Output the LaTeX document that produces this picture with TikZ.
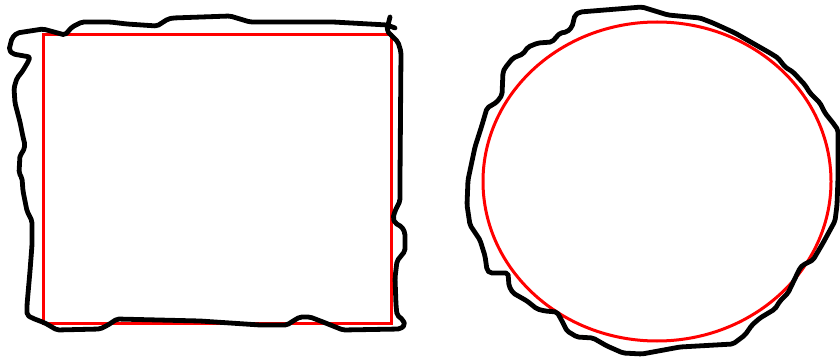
\documentclass[tikz,border=0pt]{standalone}
\begin{document}
\begin{tikzpicture}[x=1pt,y=-1pt,
  sketch/.style={draw=black,line width=4.8pt,line join=round,line cap=round,rounded corners=2pt},
  exact/.style={draw=red,line width=3pt}]
\useasboundingbox (0,0) rectangle (840,358);
% red reference shapes
\draw[exact] (43,35) rectangle (391,323);
\draw[exact] (657,181.5) ellipse [x radius=174, y radius=159.5];
% hand-drawn rectangle
\draw[sketch] (395,28) -- (387,25) -- (333,22) -- (250,22) -- (230,16) -- (173,18) -- (168,19) -- (157,26)
  -- (127,24) -- (110,22) -- (82,22) -- (72,27) -- (65,35) -- (43,29) -- (17,33) -- (12,38) -- (9,50)
  -- (13,54) -- (30,57) -- (28,62) -- (22,72) -- (17,78) -- (14,88) -- (15,103) -- (20,122) -- (23,137)
  -- (25,145) -- (23,152) -- (20,155) -- (19,173) -- (22,178) -- (23,191) -- (27,211) -- (32,221)
  -- (32,245) -- (30,271) -- (27,305) -- (27,315) -- (32,318) -- (45,323) -- (57,330) -- (100,329)
  -- (108,325) -- (117,319) -- (200,321) -- (260,325) -- (287,325) -- (293,321) -- (300,317) -- (310,317)
  -- (323,322) -- (343,330) -- (400,329) -- (405,325) -- (403,320) -- (397,315) -- (396,305) -- (395,278)
  -- (397,261) -- (405,251) -- (405,233) -- (402,227) -- (395,223) -- (393,218) -- (395,211) -- (400,201)
  -- (400,178) -- (401,52) -- (398,42) -- (393,37) -- (387,31) -- (388,25) -- (390,17);
% hand-drawn ellipse
\draw[sketch] (642,7) -- (580,12) -- (575,15) -- (572,27) -- (567,32) -- (560,33) -- (552,42) -- (538,43)
  -- (528,47) -- (523,54) -- (513,58) -- (505,68) -- (503,72) -- (502,95) -- (497,102) -- (487,108)
  -- (482,125) -- (475,147) -- (468,180) -- (467,205) -- (470,225) -- (480,240) -- (485,256) -- (487,270)
  -- (490,273) -- (508,273) -- (509,286) -- (513,293) -- (527,301) -- (537,309) -- (545,311) -- (557,312)
  -- (562,321) -- (567,331) -- (577,337) -- (593,338) -- (607,346) -- (623,353) -- (642,354) -- (680,347)
  -- (733,344) -- (745,335) -- (752,325) -- (760,318) -- (775,309) -- (780,301) -- (788,293) -- (800,268)
  -- (803,265) -- (813,260) -- (823,243) -- (835,221) -- (837,205) -- (838,178) -- (838,130) -- (833,123)
  -- (825,113) -- (820,103) -- (810,93) -- (805,85) -- (793,72) -- (785,67) -- (778,58) -- (770,53)
  -- (735,33) -- (713,23) -- (700,18) -- (668,15) -- cycle;
\end{tikzpicture}
\end{document}
